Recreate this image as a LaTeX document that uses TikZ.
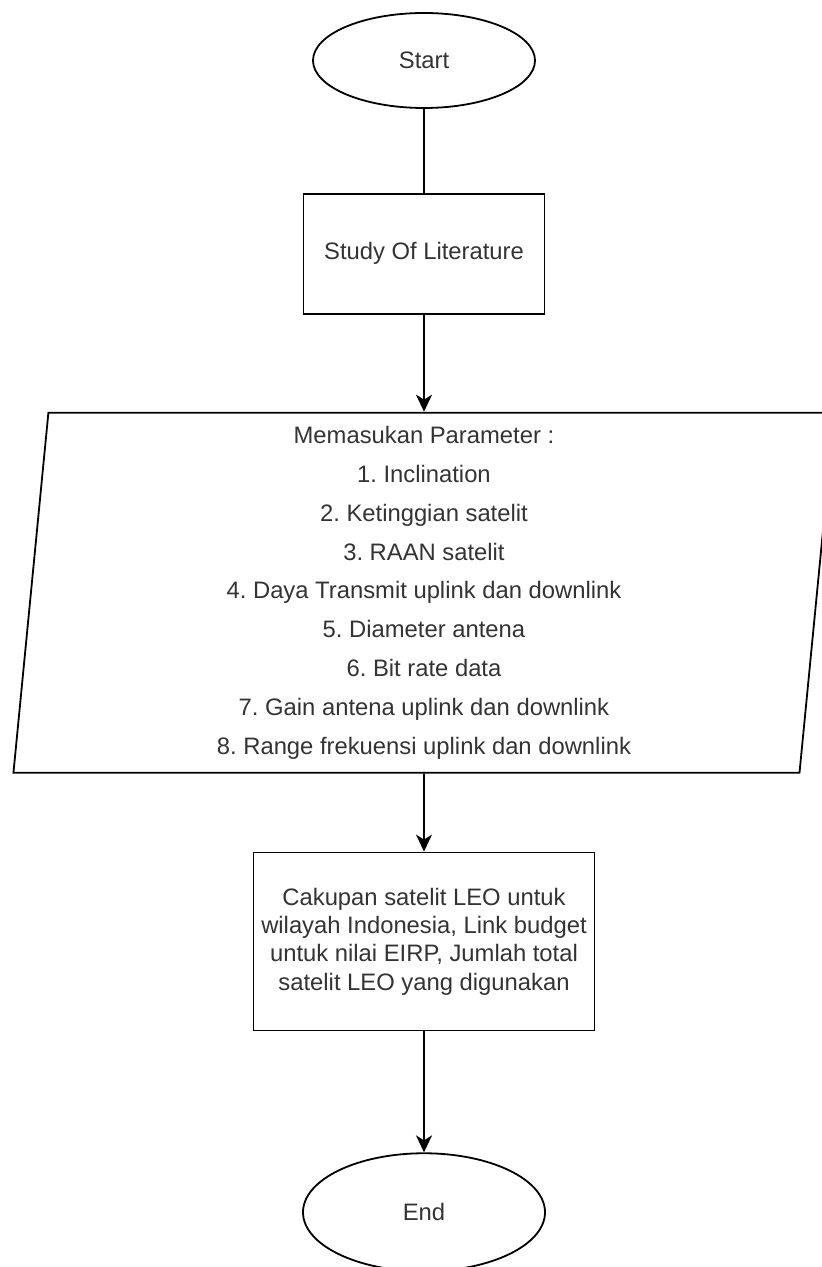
\documentclass[tikz,border=0pt]{standalone}
\usepackage{fontspec}
\setmainfont{Liberation Sans}
\frenchspacing
\usetikzlibrary{shapes.geometric,arrows.meta,positioning}

\begin{document}
\begin{tikzpicture}[
    font=\fontsize{11.9pt}{14.2pt}\selectfont,
    >={Stealth[length=8.5pt,width=8pt,inset=2.5pt]},
    line width=0.9pt,
    term/.style ={ellipse, draw=black, text=black!80, inner sep=0pt},
    block/.style={rectangle, draw=black, text=black!80,
                  align=center, inner sep=0pt},
    io/.style   ={trapezium, trapezium left angle=84,
                  trapezium right angle=96, trapezium stretches body=true,
                  draw=black, text=black!80, align=center, inner sep=0pt,
                  font=\fontsize{11.9pt}{19.4pt}\selectfont},
    arrow/.style={->}
]

\useasboundingbox (0,0) rectangle (410.5pt,-633.5pt);

%–––– START ––––––––––––––––––––––––––––––––––––––––
\node (start) [term, minimum width=111pt, minimum height=47.5pt]
      at (212pt,-30.25pt) {Start};

%–––– STEPS ––––––––––––––––––––––––––––––––––––––––
\node (study)  [block, minimum width=120.5pt, minimum height=60pt,
                below=42pt of start] {Study Of Literature};

\node (param)  [io, minimum width=410.5pt, minimum height=180pt,
                below=48.5pt of study]
{Memasukan Parameter :\\
 1. Inclination\\
 2. Ketinggian satelit\\
 3. RAAN satelit\\
 4. Daya Transmit uplink dan downlink\\
 5. Diameter antena\\
 6. Bit rate data\\
 7. Gain antena uplink dan downlink\\
 8. Range frekuensi uplink dan downlink};

\node (result) [block, minimum width=170.5pt, minimum height=89pt,
                below=39pt of param]
{Cakupan satelit LEO untuk\\
 wilayah Indonesia, Link budget\\
 untuk nilai EIRP, Jumlah total\\
 satelit LEO yang digunakan};

%–––– END ––––––––––––––––––––––––––––––––––––––––––
\node (stop) [term, minimum width=121pt, minimum height=59pt,
              below=60.5pt of result] {End};

% connectors
\draw (start) -- (study);
\foreach \a/\b in {study/param, param/result, result/stop}
  \draw[arrow] (\a) -- (\b);
\end{tikzpicture}
\end{document}
